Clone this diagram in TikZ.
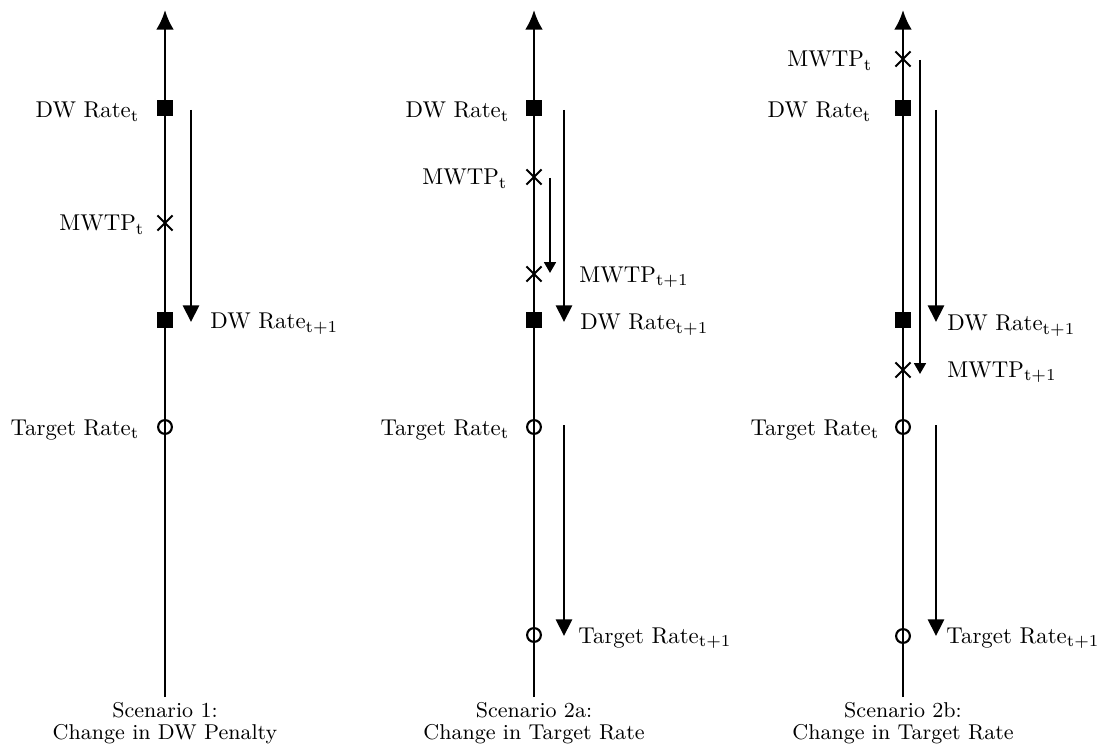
\documentclass[tikz,border=0pt]{standalone}
\usetikzlibrary{arrows.meta,shapes.misc}
\begin{document}
\begin{tikzpicture}[x=0.42pt,y=-0.42pt,
    axisline/.style={line width=1.05pt,-{Latex[length=8.2pt,width=7.4pt]}},
    dwmark/.style={rectangle,fill=black,minimum size=6.8pt,inner sep=0pt},
    mwtpmark/.style={cross out,draw,line width=0.8pt,minimum size=5.6pt,inner sep=0pt},
    tgtmark/.style={circle,draw,line width=0.9pt,minimum size=5.8pt,inner sep=0pt},
    bigshift/.style={line width=0.85pt,-{Triangle[length=7pt,width=6.8pt]}},
    smallshift/.style={line width=0.85pt,-{Triangle[length=4.6pt,width=5pt]}},
    lbl/.style={inner sep=0pt,font=\fontsize{9.6}{11.5}\selectfont},
    captxt/.style={inner sep=0pt,align=center,anchor=north,font=\fontsize{9}{9}\selectfont}]
  \useasboundingbox (0,0) rectangle (1097,744);
  % Achsen
  \foreach \n/\x in {1/165,2/534,3/903}{
    \coordinate (top\n) at (\x,10);
    \coordinate (bot\n) at (\x,697);
    \draw[axisline] (bot\n) -- (top\n);
  }
  % Szenario 1
  \node[dwmark] (s1dw) at (165,108) {};
  \node[mwtpmark] (s1mw) at (165,223) {};
  \node[dwmark] (s1dwn) at (165,320) {};
  \node[tgtmark] (s1tg) at (165,427) {};
  \node[lbl,anchor=base east] (l1dw) at (140,118) {DW Rate$_\mathrm{t}$};
  \node[lbl,anchor=base east] (l1mw) at (145,231) {MWTP$_\mathrm{t}$};
  \node[lbl,anchor=base east] (l1tg) at (140,435) {Target Rate$_\mathrm{t}$};
  \node[lbl,anchor=base west] (l1dwn) at (210,329) {DW Rate$_\mathrm{t+1}$};
  \coordinate (p1a) at (191,110);
  \coordinate (p1b) at (191,322);
  \draw[bigshift] (p1a) -- (p1b);
  \node[captxt] (c1) at (165,702) {Scenario 1:\\Change in DW Penalty};
  % Szenario 2a
  \node[dwmark] (s2dw) at (534,108) {};
  \node[mwtpmark] (s2mw) at (534,177) {};
  \node[mwtpmark] (s2mwn) at (534,274) {};
  \node[dwmark] (s2dwn) at (534,320) {};
  \node[tgtmark] (s2tg) at (534,427) {};
  \node[tgtmark] (s2tgn) at (534,635) {};
  \node[lbl,anchor=base east] (l2dw) at (510,118) {DW Rate$_\mathrm{t}$};
  \node[lbl,anchor=base east] (l2mw) at (508,185) {MWTP$_\mathrm{t}$};
  \node[lbl,anchor=base east] (l2tg) at (510,435) {Target Rate$_\mathrm{t}$};
  \node[lbl,anchor=base west] (l2mwn) at (579,282) {MWTP$_\mathrm{t+1}$};
  \node[lbl,anchor=base west] (l2dwn) at (580,330) {DW Rate$_\mathrm{t+1}$};
  \node[lbl,anchor=base west] (l2tgn) at (578,643) {Target Rate$_\mathrm{t+1}$};
  \coordinate (p2a) at (550,178);
  \coordinate (p2b) at (550,273);
  \draw[smallshift] (p2a) -- (p2b);
  \coordinate (p2c) at (564,110);
  \coordinate (p2d) at (564,322);
  \draw[bigshift] (p2c) -- (p2d);
  \coordinate (p2e) at (564,425);
  \coordinate (p2f) at (564,636);
  \draw[bigshift] (p2e) -- (p2f);
  \node[captxt] (c2) at (534,702) {Scenario 2a:\\Change in Target Rate};
  % Szenario 2b
  \node[mwtpmark] (s3mw) at (903,59) {};
  \node[dwmark] (s3dw) at (903,108) {};
  \node[dwmark] (s3dwn) at (903,320) {};
  \node[mwtpmark] (s3mwn) at (903,370) {};
  \node[tgtmark] (s3tg) at (903,427) {};
  \node[tgtmark] (s3tgn) at (903,636) {};
  \node[lbl,anchor=base east] (l3mw) at (873,67) {MWTP$_\mathrm{t}$};
  \node[lbl,anchor=base east] (l3dw) at (872,118) {DW Rate$_\mathrm{t}$};
  \node[lbl,anchor=base east] (l3tg) at (880,435) {Target Rate$_\mathrm{t}$};
  \node[lbl,anchor=base west] (l3dwn) at (947,331) {DW Rate$_\mathrm{t+1}$};
  \node[lbl,anchor=base west] (l3mwn) at (947,377) {MWTP$_\mathrm{t+1}$};
  \node[lbl,anchor=base west] (l3tgn) at (946,643) {Target Rate$_\mathrm{t+1}$};
  \coordinate (p3a) at (920,60);
  \coordinate (p3b) at (920,374);
  \draw[smallshift] (p3a) -- (p3b);
  \coordinate (p3c) at (936,110);
  \coordinate (p3d) at (936,322);
  \draw[bigshift] (p3c) -- (p3d);
  \coordinate (p3e) at (936,425);
  \coordinate (p3f) at (936,636);
  \draw[bigshift] (p3e) -- (p3f);
  \node[captxt] (c3) at (903,702) {Scenario 2b:\\Change in Target Rate};
\end{tikzpicture}
\end{document}
